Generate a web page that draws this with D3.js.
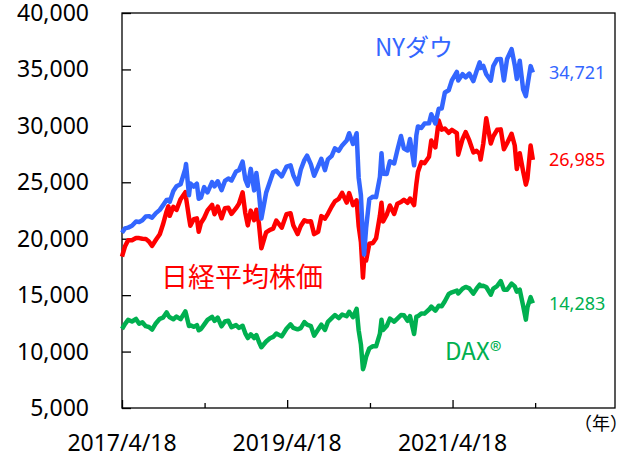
<!DOCTYPE html>
<html>
<head>
<meta charset="utf-8">
<script src="https://cdn.jsdelivr.net/npm/d3@7"></script>
<style>
  body { margin: 0; background: #fff; }
  text { font-family: "Noto Sans", "Noto Sans CJK JP", sans-serif; }
</style>
</head>
<body>
<div class="container"></div>
<script>
// observation dates (roughly twice a month, plus turning points)
let dates = [
  '2017-04-18','2017-05-01','2017-05-15','2017-06-01','2017-06-19','2017-07-03','2017-07-17','2017-08-01',
  '2017-08-15','2017-08-29','2017-09-15','2017-10-02','2017-10-16','2017-11-01','2017-11-09','2017-11-15',
  '2017-12-01','2017-12-15','2018-01-02','2018-01-23','2018-01-26','2018-02-08','2018-02-14','2018-03-01',
  '2018-03-15','2018-03-23','2018-04-02','2018-04-16','2018-05-01','2018-05-21','2018-06-01','2018-06-15',
  '2018-07-02','2018-07-17','2018-08-01','2018-08-15','2018-09-04','2018-09-17','2018-10-03','2018-10-15',
  '2018-10-26','2018-11-08','2018-11-23','2018-12-03','2018-12-14','2018-12-25','2019-01-15','2019-02-01',
  '2019-02-15','2019-03-01','2019-03-25','2019-04-15','2019-05-03','2019-05-15','2019-06-03','2019-06-17',
  '2019-07-03','2019-07-15','2019-08-01','2019-08-15','2019-09-02','2019-09-16','2019-10-02','2019-10-15',
  '2019-11-01','2019-11-15','2019-12-02','2019-12-17','2020-01-06','2020-01-17','2020-02-03','2020-02-19',
  '2020-02-28','2020-03-09','2020-03-18','2020-03-23','2020-04-01','2020-04-15','2020-05-01','2020-05-15',
  '2020-06-01','2020-06-08','2020-06-15','2020-07-01','2020-07-15','2020-08-03','2020-08-17','2020-09-02',
  '2020-09-15','2020-10-01','2020-10-12','2020-10-30','2020-11-09','2020-11-16','2020-12-01','2020-12-15',
  '2021-01-04','2021-01-14','2021-02-01','2021-02-16','2021-03-01','2021-03-15','2021-04-01','2021-04-15',
  '2021-05-07','2021-05-13','2021-06-01','2021-06-15','2021-07-01','2021-07-19','2021-08-02','2021-08-16',
  '2021-08-20','2021-09-01','2021-09-14','2021-10-04','2021-10-15','2021-11-01','2021-11-17','2021-12-01',
  '2021-12-15','2022-01-04','2022-01-18','2022-01-27','2022-02-09','2022-02-24','2022-03-08','2022-03-15',
  '2022-03-29','2022-04-08'
];

let dow = [
  20523,20913,20982,21144,21528,21479,21630,21963,22000,21865,22268,22557,22957,23435,23461,23271,
  24231,24651,24824,26210,26616,23860,24893,24608,24873,23533,23644,24573,24099,25013,24635,25090,
  24307,25120,25333,25162,25952,26062,26828,25250,24689,26191,24285,25826,24100,21792,24065,25063,
  25883,26026,25516,26384,26505,25648,24820,26112,26966,27359,26583,25579,26403,27076,26078,27024,
  27347,28005,27783,28267,28703,29348,28399,29348,25409,23851,19898,18591,20943,23504,23724,23685,
  25475,27572,25763,25734,26870,26664,27844,29100,27995,27816,28837,26501,29157,29950,29823,30199,
  30223,31031,30211,31523,31535,32953,33153,34035,34778,34021,34575,34299,34633,33962,34838,35625,
  35120,35312,34577,34002,35294,35913,35931,34022,35927,36799,35368,34160,35768,33223,32632,33544,
  35294,34721
];

let nikkei = [
  18418,19310,19869,19860,20067,20055,19999,19985,19753,19362,19909,20400,21255,22420,22868,22028,
  22819,22553,23506,24124,23631,21890,21154,21724,21803,20617,21388,21835,22508,23002,22171,22851,
  21811,22697,22746,22204,22707,23094,24110,22271,21184,22487,21646,22574,21374,19155,20555,20788,
  20900,21602,20977,22169,22258,21188,20410,21124,21638,21535,21540,20405,20620,22001,21778,22207,
  22850,23303,23529,24066,23204,24041,22971,23400,21142,19698,16552,18092,18065,19550,19619,20037,
  22062,23178,21530,22121,22945,22195,23096,23247,23454,23185,23558,22977,24839,25906,26787,26687,
  27258,28698,28091,30467,29663,29766,29388,29642,29357,27448,28814,29441,28707,27652,27781,27523,
  27013,28451,30670,28444,29068,29647,29688,27935,28460,29301,28257,26170,27580,25971,24791,25346,
  28252,26985
];

let dax = [
  12000,12438,12807,12664,12889,12475,12587,12251,12177,11945,12518,12902,13003,13465,13182,13033,
  12862,13103,12871,13559,13340,12260,12339,12190,12345,11886,12002,12391,12802,13077,12724,13010,
  12238,12661,12737,12163,12346,12096,12287,11614,11200,11527,11193,11465,10865,10382,10891,11180,
  11299,11601,11346,12020,12412,12099,11971,12085,12616,12387,12253,11412,11953,12381,11925,12629,
  12961,13241,12964,13287,13127,13526,13045,13789,11890,10625,8441,8742,9544,10280,10466,10465,
  11586,12820,11911,12260,12930,12646,12920,13243,13218,12730,13138,11556,13095,13138,13382,13362,
  13726,13988,13622,14064,14012,14461,15107,15255,15400,15150,15567,15729,15603,15134,15568,15926,
  15808,15824,15722,15036,15587,15806,16251,15472,15476,16020,15773,15318,15482,14052,12832,13917,
  14820,14283
];

let yTicks = [5000, 10000, 15000, 20000, 25000, 30000, 35000, 40000];
let xTicks = ['2017-04-18', '2018-04-18', '2019-04-18', '2020-04-18', '2021-04-18', '2022-04-18'];
let xLabels = ['2017-04-18', '2019-04-18', '2021-04-18'];

let seriesNames = ['NYダウ', '日経平均株価', 'DAX®'];
let seriesColors = ['#3366ff', '#ff0000', '#00b050'];

let W = 630, H = 457;
let plot = { left: 122, right: 615, top: 13, bottom: 408 };

let parse = d3.timeParse('%Y-%m-%d');
let fmtLabel = d3.timeFormat('%Y/%-m/%-d');
let fmtNum = d3.format(',');

let svg = d3.select('.container').append('svg').attr('width', W).attr('height', H);

let x = d3.scaleTime()
  .domain([parse('2017-04-18'), parse('2023-04-06')])
  .range([plot.left, plot.right]);

let y = d3.scaleLinear().domain([5000, 40000]).range([plot.bottom, plot.top]);

// frame
svg.append('rect')
  .attr('x', plot.left).attr('y', plot.top)
  .attr('width', plot.right - plot.left).attr('height', plot.bottom - plot.top)
  .attr('fill', 'none').attr('stroke', '#000').attr('stroke-width', 1.3);

// y axis (ticks inward)
let yAxis = svg.append('g')
  .attr('transform', 'translate(' + plot.left + ',0)')
  .call(d3.axisRight(y).tickValues(yTicks).tickSize(9).tickFormat(''));
yAxis.select('.domain').remove();
yAxis.selectAll('line').attr('stroke', '#000').attr('stroke-width', 1.3);

svg.append('g').selectAll('text')
  .data(yTicks)
  .enter()
  .append('text')
  .attr('x', 89)
  .attr('y', (d) => y(d))
  .attr('dy', '0.35em')
  .attr('text-anchor', 'end')
  .style('font-size', '23px')
  .style('fill', '#000')
  .text((d) => fmtNum(d));

// x axis (ticks inward)
let xAxis = svg.append('g')
  .attr('transform', 'translate(0,' + plot.bottom + ')')
  .call(d3.axisTop(x).tickValues(xTicks.map(parse)).tickSize(6).tickFormat(''));
xAxis.select('.domain').remove();
xAxis.selectAll('line')
  .attr('stroke', '#000').attr('stroke-width', 1.3)
  .attr('y2', (d, i) => (i % 2 === 0 ? -8 : -5));

svg.append('g').selectAll('text')
  .data(xLabels)
  .enter()
  .append('text')
  .attr('x', (d) => x(parse(d)))
  .attr('y', 451)
  .attr('text-anchor', 'middle')
  .style('font-size', '23px')
  .style('fill', '#000')
  .text((d) => fmtLabel(parse(d)));

svg.append('text')
  .attr('x', 574)
  .attr('y', 430)
  .style('font-size', '18px')
  .style('font-family', '"Noto Sans CJK JP"')
  .text('（年）');

// lines
let allSeries = [dow, nikkei, dax];
let line = d3.line()
  .x((d, i) => x(parse(dates[i])))
  .y((d) => y(d));

svg.append('g').selectAll('path')
  .data([dax, nikkei, dow])
  .enter()
  .append('path')
  .attr('d', (d) => line(d))
  .attr('fill', 'none')
  .attr('stroke', (d) => seriesColors[allSeries.indexOf(d)])
  .attr('stroke-width', 4.5)
  .attr('stroke-linejoin', 'round');

// last values
svg.append('g').selectAll('text')
  .data(allSeries)
  .enter()
  .append('text')
  .attr('x', 549)
  .attr('y', (d) => y(d[d.length - 1]))
  .attr('dy', '0.35em')
  .style('font-size', '18px')
  .style('fill', (d, i) => seriesColors[i])
  .text((d) => fmtNum(d[d.length - 1]));

// series names
let namePos = [[375, 48, 24], [161, 278, 27], [445, 352, 24]];
svg.append('g').selectAll('text')
  .data(seriesNames)
  .enter()
  .append('text')
  .attr('x', (d, i) => namePos[i][0])
  .attr('y', (d, i) => namePos[i][1])
  .attr('dy', '0.35em')
  .style('font-size', (d, i) => namePos[i][2] + 'px')
  .style('font-family', '"Noto Sans CJK JP", "Noto Sans", sans-serif')
  .style('fill', (d, i) => seriesColors[i])
  .text((d) => d);
</script>
</body>
</html>
